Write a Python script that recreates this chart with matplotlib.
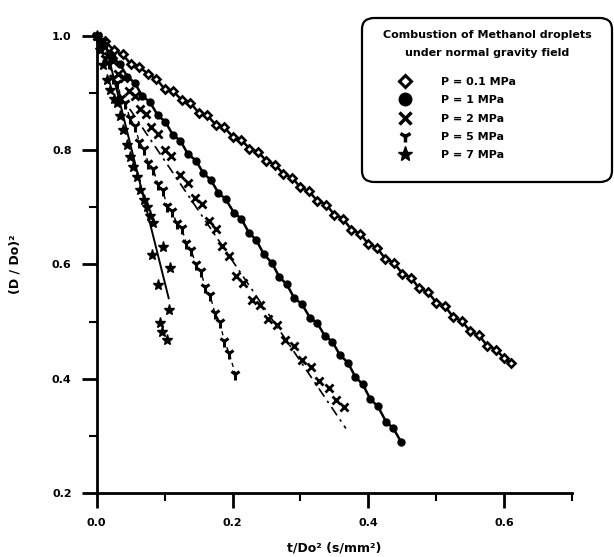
import matplotlib
matplotlib.use("Agg")
import matplotlib.pyplot as plt
from matplotlib.lines import Line2D
from matplotlib.patches import FancyBboxPatch
from matplotlib.ticker import MultipleLocator, FormatStrFormatter

plt.rcParams['font.family'] = ['DejaVu Sans']

# ---- data: normalised time t/Do^2 (s/mm^2) and squared diameter ratio (D/Do)^2 ----
t_01 = [0, 0.012, 0.025, 0.038, 0.05, 0.063, 0.075, 0.088, 0.1, 0.113, 0.125, 0.138,
        0.15, 0.163, 0.175, 0.188, 0.2, 0.213, 0.225, 0.238, 0.25, 0.263, 0.275, 0.288,
        0.3, 0.313, 0.325, 0.338, 0.35, 0.363, 0.375, 0.388, 0.4, 0.413, 0.425, 0.438,
        0.45, 0.463, 0.475, 0.488, 0.5, 0.513, 0.525, 0.538, 0.55, 0.563, 0.575, 0.588,
        0.6, 0.61]
d_01 = [1.000, 0.992, 0.975, 0.968, 0.951, 0.946, 0.934, 0.925, 0.907, 0.903, 0.888, 0.883,
        0.866, 0.861, 0.845, 0.840, 0.824, 0.818, 0.803, 0.797, 0.781, 0.775, 0.758, 0.752,
        0.735, 0.728, 0.711, 0.705, 0.687, 0.680, 0.661, 0.654, 0.636, 0.629, 0.610, 0.603,
        0.584, 0.577, 0.558, 0.552, 0.533, 0.527, 0.508, 0.501, 0.483, 0.476, 0.458, 0.451,
        0.436, 0.427]

t_1 = [0, 0.011, 0.022, 0.034, 0.045, 0.056, 0.067, 0.078, 0.09, 0.101, 0.112, 0.123,
       0.134, 0.146, 0.157, 0.168, 0.179, 0.19, 0.202, 0.213, 0.224, 0.235, 0.246, 0.258,
       0.269, 0.28, 0.291, 0.302, 0.314, 0.325, 0.336, 0.347, 0.358, 0.37, 0.381, 0.392,
       0.403, 0.414, 0.426, 0.437, 0.448]
d_1 = [1.000, 0.985, 0.964, 0.951, 0.929, 0.918, 0.895, 0.885, 0.861, 0.850, 0.827, 0.817,
       0.794, 0.782, 0.760, 0.748, 0.726, 0.714, 0.691, 0.680, 0.656, 0.643, 0.618, 0.603,
       0.578, 0.565, 0.541, 0.531, 0.507, 0.497, 0.475, 0.465, 0.442, 0.428, 0.403, 0.390,
       0.364, 0.352, 0.325, 0.313, 0.290]

t_2 = [0, 0.008, 0.016, 0.024, 0.032, 0.04, 0.048, 0.056, 0.064, 0.072, 0.08, 0.09,
       0.1, 0.11, 0.123, 0.135, 0.145, 0.155, 0.165, 0.175, 0.185, 0.195, 0.205, 0.215,
       0.228, 0.24, 0.252, 0.265, 0.278, 0.29, 0.302, 0.315, 0.328, 0.342, 0.353, 0.364]
d_2 = [1.000, 0.988, 0.965, 0.957, 0.934, 0.926, 0.903, 0.895, 0.872, 0.864, 0.841, 0.829,
       0.801, 0.790, 0.757, 0.743, 0.716, 0.706, 0.676, 0.662, 0.632, 0.614, 0.580, 0.568,
       0.537, 0.529, 0.505, 0.494, 0.468, 0.457, 0.432, 0.421, 0.396, 0.384, 0.362, 0.351]
t_2_fit = [0.03, 0.367]
d_2_fit = [0.905, 0.313]

t_5 = [0, 0.006, 0.012, 0.018, 0.024, 0.03, 0.036, 0.042, 0.049, 0.056, 0.063, 0.069,
       0.076, 0.083, 0.09, 0.097, 0.104, 0.111, 0.118, 0.125, 0.132, 0.139, 0.146, 0.153,
       0.16, 0.167, 0.174, 0.181, 0.188, 0.195, 0.204]
d_5 = [1.000, 0.986, 0.962, 0.952, 0.927, 0.918, 0.892, 0.883, 0.856, 0.842, 0.814, 0.803,
       0.778, 0.768, 0.741, 0.730, 0.702, 0.693, 0.672, 0.664, 0.637, 0.626, 0.600, 0.589,
       0.560, 0.546, 0.515, 0.500, 0.466, 0.445, 0.409]

t_7 = [0, 0.005, 0.01, 0.0148, 0.02, 0.025, 0.0295, 0.034, 0.039, 0.044, 0.049, 0.054,
       0.059, 0.064, 0.069, 0.074, 0.078, 0.0836, 0.081, 0.098, 0.108, 0.091, 0.0935,
       0.096, 0.103, 0.106]
d_7 = [1.000, 0.975, 0.950, 0.923, 0.905, 0.890, 0.882, 0.860, 0.835, 0.810, 0.789, 0.770,
       0.754, 0.730, 0.713, 0.700, 0.685, 0.672, 0.616, 0.631, 0.593, 0.564, 0.497,
       0.482, 0.468, 0.520]
t_7_fit = [0.015, 0.106]
d_7_fit = [0.975, 0.541]

x_ticks = [0.0, 0.2, 0.4, 0.6]
y_ticks = [0.2, 0.4, 0.6, 0.8, 1.0]

legend_title = "Combustion of Methanol droplets\nunder normal gravity field"
labels = ["P = 0.1 MPa", "P = 1 MPa", "P = 2 MPa", "P = 5 MPa", "P = 7 MPa"]

# ---- figure ----
W, H = 614, 557
fig = plt.figure(figsize=(W / 100, H / 100), dpi=100)
ax = fig.add_axes([0.1575, 0.1149, 0.7741, 0.8205])

k = dict(color='black', clip_on=False)
ax.plot(t_01, d_01, '-', lw=1.8, marker='D', ms=4.2, mfc='white', mec='black', mew=1.9, **k)
ax.plot(t_1, d_1, '-', lw=1.8, marker='o', ms=5, mfc='black', mec='black', **k)
ax.plot(t_2_fit, d_2_fit, ls=(0, (6, 3, 1.5, 3)), lw=1.2, **k)
ax.plot(t_2, d_2, ls='none', marker='x', ms=6, mew=2.0, **k)
ax.plot(t_5, d_5, ls=(0, (3, 3)), lw=1.0, marker='1', ms=8, mew=2.2, **k)
ax.plot(t_7_fit, d_7_fit, '-', lw=1.4, **k)
ax.plot(t_7, d_7, ls='none', marker='*', ms=8, mfc='black', mec='black', **k)

ax.set_xlim(0, 0.7)
ax.set_ylim(0.2, 1.0)
ax.set_xticks(x_ticks)
ax.set_yticks(y_ticks)
ax.xaxis.set_minor_locator(MultipleLocator(0.1))
ax.yaxis.set_minor_locator(MultipleLocator(0.1))
ax.xaxis.set_major_formatter(FormatStrFormatter('%.1f'))
ax.yaxis.set_major_formatter(FormatStrFormatter('%.1f'))

for s in ['top', 'right']:
    ax.spines[s].set_visible(False)
for s in ['left', 'bottom']:
    ax.spines[s].set_linewidth(2.0)

ax.tick_params(which='major', direction='out', length=11, width=2, labelsize=8, pad=7)
ax.tick_params(which='minor', direction='out', length=6, width=1.5)
for lab in ax.get_xticklabels() + ax.get_yticklabels():
    lab.set_fontweight('bold')

ax.set_xlabel("t/Do² (s/mm²)", fontsize=9, fontweight='bold', labelpad=10)
ax.set_ylabel("(D / Do)²", fontsize=9, fontweight='bold', labelpad=22)

# ---- legend box with title ----
box_l, box_t, box_r, box_b = 362, 18, 612, 182
fig.patches.append(FancyBboxPatch(
    (box_l / W, 1 - box_b / H), (box_r - box_l) / W, (box_b - box_t) / H,
    boxstyle='round,pad=0,rounding_size=0.02', transform=fig.transFigure,
    facecolor='white', edgecolor='black', linewidth=1.6, zorder=5))
fig.text((box_l + box_r) / 2 / W, 1 - 44 / H, legend_title, ha='center', va='center',
         fontsize=8, fontweight='bold', linespacing=1.95, zorder=6)

handles = [
    Line2D([], [], ls='none', marker='D', ms=6, mfc='white', mec='black', mew=2.2),
    Line2D([], [], ls='none', marker='o', ms=9, mfc='black', mec='black'),
    Line2D([], [], ls='none', marker='x', ms=8, mec='black', mew=2.5),
    Line2D([], [], ls='none', marker='1', ms=9, mec='black', mew=2.5),
    Line2D([], [], ls='none', marker='*', ms=11, mfc='black', mec='black'),
]
leg = fig.legend(handles, labels, loc='upper left',
                 bbox_to_anchor=(394 / W, 1 - 77 / H), frameon=False,
                 prop={'size': 8, 'weight': 'bold'},
                 labelspacing=0.75, handlelength=2.0, handletextpad=2.2,
                 borderpad=0, borderaxespad=0)
leg.set_zorder(7)

fig.savefig("out.png", dpi=100, facecolor='white')
